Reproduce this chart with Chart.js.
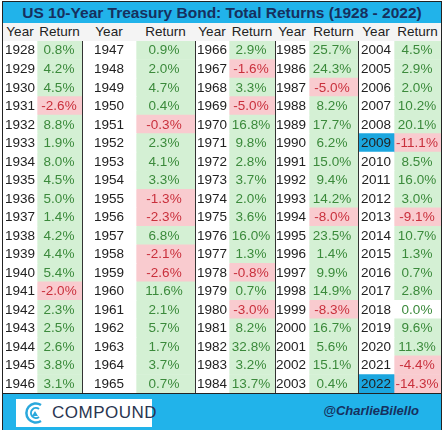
<!DOCTYPE html>
<html><head><meta charset="utf-8">
<script src="https://cdn.jsdelivr.net/npm/chart.js@4"></script>
<style>
body{margin:0;background:#fff;font-family:"Liberation Sans",Arial,sans-serif;}
#wrap{position:absolute;left:2px;top:1px;width:440px;height:429px;border:1px solid #222;box-sizing:border-box;}
#title{position:absolute;left:0;top:0;width:438px;height:21px;background:#21b3ea;color:#16305e;font-weight:bold;font-size:15.5px;text-align:center;line-height:21px;}
#hdr{position:absolute;left:0;top:21px;width:438px;height:18px;background:#f4f4f4;font-size:13.5px;color:#222;}
#hdr span{position:absolute;top:0;line-height:18px;text-align:center;}
#cv{position:absolute;left:0;top:39px;width:438px;height:352px;}
#foot{position:absolute;left:0;top:391px;width:438px;height:36px;background:#21b3ea;border-top:1px solid #222;}
#logo{position:absolute;left:13px;top:5px;width:136px;height:28px;background:#fff;}
#logo span{position:absolute;left:36px;top:4px;font-size:17px;color:#2a3550;letter-spacing:0.5px;}
#handle{position:absolute;right:22px;top:9px;font-size:13px;font-weight:bold;font-style:italic;color:#16305e;}
</style></head><body>
<div id="wrap">
<div id="title">US 10-Year Treasury Bond: Total Returns (1928 - 2022)</div>
<div id="hdr"></div>
<div id="cv"><canvas id="c"></canvas></div>
<div id="foot"><div id="logo"><svg width="30" height="28" style="position:absolute;left:5px;top:0"><path d="M20 6 A9.5 9.5 0 1 0 20 22" fill="none" stroke="#2aa8dc" stroke-width="2.5"/><path d="M18 10 A5 5 0 1 0 18 18" fill="none" stroke="#2aa8dc" stroke-width="2"/><path d="M11 17 L14 12 L17 17 Z" fill="#2aa8dc"/></svg><span>COMPOUND</span></div><div id="handle">@CharlieBilello</div></div>
</div>
<script>
const startYears=[1928,1947,1966,1985,2004];
const col1=[0.8,4.2,4.5,-2.6,8.8,1.9,8.0,4.5,5.0,1.4,4.2,4.4,5.4,-2.0,2.3,2.5,2.6,3.8,3.1];
const col2=[0.9,2.0,4.7,0.4,-0.3,2.3,4.1,3.3,-1.3,-2.3,6.8,-2.1,-2.6,11.6,2.1,5.7,1.7,3.7,0.7];
const col3=[2.9,-1.6,3.3,-5.0,16.8,9.8,2.8,3.7,2.0,3.6,16.0,1.3,-0.8,0.7,-3.0,8.2,32.8,3.2,13.7];
const col4=[25.7,24.3,-5.0,8.2,17.7,6.2,15.0,9.4,14.2,-8.0,23.5,1.4,9.9,14.9,-8.3,16.7,5.6,15.1,0.4];
const col5=[4.5,2.9,2.0,10.2,20.1,-11.1,8.5,16.0,3.0,-9.1,10.7,1.3,0.7,2.8,0.0,9.6,11.3,-4.4,-14.3];
const highlightYears=[2009,2022];
const cols=[col1,col2,col3,col4,col5];
// layout columns: [yearStart, returnStart, end, yearCenter, returnCenter]
const geo=[[0,34,79,17,56],[79,133,192,106,161],[192,226,272,209,248],[272,306,355,288,329],[355,391,438,373,414]];
const rows=col1.map((_,i)=>'r'+i);
const hdr=document.getElementById('hdr');
geo.forEach(g=>{hdr.innerHTML+=`<span style="left:${g[0]}px;width:${g[1]-g[0]}px">Year</span><span style="left:${g[1]}px;width:${g[2]-g[1]}px">Return</span>`;});
const datasets=[];
cols.forEach((vals,ci)=>{
  const g=geo[ci];
  datasets.push({data:vals.map(()=>[g[0],g[1]]),backgroundColor:vals.map((v,i)=>highlightYears.includes(startYears[ci]+i)?'#1ba6df':'#ffffff'),grouped:false});
  datasets.push({data:vals.map(()=>[g[1],g[2]]),backgroundColor:vals.map(v=>v>0?'#d4f0d4':(v<0?'#f9cbcf':'#ffffff')),grouped:false});
});
const textPlugin={id:'txt',afterDatasetsDraw(ch){
  const c=ch.ctx,x=ch.scales.x,y=ch.scales.y;
  c.save();c.font='13.5px "Liberation Sans", Arial';c.textAlign='center';c.textBaseline='middle';
  cols.forEach((vals,ci)=>{const g=geo[ci];
    vals.forEach((v,i)=>{const py=y.getPixelForValue(i)+0.5;
      c.fillStyle='#222';c.fillText(String(startYears[ci]+i),x.getPixelForValue(g[3]),py);
      c.fillStyle=v<0?'#c9303c':'#3b8a3b';c.fillText(v.toFixed(1)+'%',x.getPixelForValue(g[4]),py);});
  });
  c.strokeStyle='#333';c.lineWidth=1;
  geo.slice(1).forEach(g=>{const px=Math.round(x.getPixelForValue(g[0]))+0.5;c.beginPath();c.moveTo(px,ch.chartArea.top);c.lineTo(px,ch.chartArea.bottom);c.stroke();});
  c.restore();}};
new Chart(document.getElementById('c'),{type:'bar',data:{labels:rows,datasets},
 options:{indexAxis:'y',responsive:true,maintainAspectRatio:false,animation:false,
  layout:{padding:0},barPercentage:1,categoryPercentage:1,
  plugins:{legend:{display:false},tooltip:{enabled:false}},
  scales:{x:{type:'linear',min:0,max:438,display:false},y:{display:false}}},
 plugins:[textPlugin]});
</script></body></html>
